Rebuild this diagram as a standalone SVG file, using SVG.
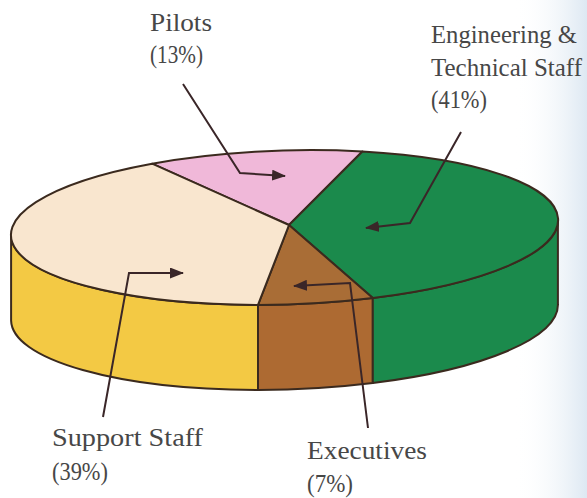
<svg xmlns="http://www.w3.org/2000/svg" width="587" height="498" viewBox="0 0 587 498">
  <defs>
    <linearGradient id="scan" x1="0" y1="0" x2="1" y2="0">
      <stop offset="0" stop-color="#ffffff" stop-opacity="0"/>
      <stop offset="1" stop-color="#dde8f2"/>
    </linearGradient>
    <marker id="arrow" markerUnits="userSpaceOnUse" markerWidth="14" markerHeight="11" refX="13" refY="5.5" orient="auto">
      <path d="M0,0 L14,5.5 L0,11 z" fill="#3a2628"/>
    </marker>
    <style>
      .edge { stroke: #3b2a1e; stroke-width: 2; stroke-linejoin: round; }
      .conn { fill: none; stroke: #3a2628; stroke-width: 2; marker-end: url(#arrow); }
      .lbl { font-family: "Liberation Serif", "DejaVu Serif", serif; font-size: 26px; fill: #474747; }
    </style>
  </defs>
  <rect width="587" height="498" fill="#ffffff"/>
  <rect x="515" y="0" width="72" height="498" fill="url(#scan)"/>

  <g id="pie">
    <path id="side-support" class="edge" fill="#f3c944" d="M258,304.9 A273.5,77 -1.7 0 1 11.1,235.6 L11.1,320.6 A273.5,77 -1.7 0 0 258,389.9 Z"/>
    <path id="side-executives" class="edge" fill="#ad6a32" d="M372.8,298 A273.5,77 -1.7 0 1 258,304.9 L258,389.9 A273.5,77 -1.7 0 0 372.8,383 Z"/>
    <path id="side-engineering" class="edge" fill="#1b8a4c" d="M557.9,219.4 A273.5,77 -1.7 0 1 372.8,298 L372.8,383 A273.5,77 -1.7 0 0 557.9,304.4 Z"/>
    <path id="top-pilots" class="edge" fill="#f0b8d9" d="M289,225 L152.1,163.7 A273.5,77 -1.7 0 1 362.4,151.5 Z"/>
    <path id="top-engineering" class="edge" fill="#1b8a4c" d="M289,225 L362.4,151.5 A273.5,77 -1.7 0 1 372.8,298 Z"/>
    <path id="top-executives" class="edge" fill="#a96d36" d="M289,225 L372.8,298 A273.5,77 -1.7 0 1 258,304.9 Z"/>
    <path id="top-support" class="edge" fill="#f9e6cf" d="M289,225 L258,304.9 A273.5,77 -1.7 0 1 152.1,163.7 Z"/>
  </g>

  <g id="connectors">
    <polyline class="conn" points="183,84 240,173 285,176"/>
    <polyline class="conn" points="461,132 410,223 366,228"/>
    <polyline class="conn" points="368,428 350,283 294,286"/>
    <polyline class="conn" points="103,417 129,273 183,273"/>
  </g>

  <g id="label-pilots">
    <text class="lbl" x="150" y="31" textLength="62" lengthAdjust="spacingAndGlyphs">Pilots</text>
    <text class="lbl" x="150" y="63" textLength="53" lengthAdjust="spacingAndGlyphs">(13%)</text>
  </g>
  <g id="label-engineering">
    <text class="lbl" x="431" y="43" textLength="146" lengthAdjust="spacingAndGlyphs">Engineering &amp;</text>
    <text class="lbl" x="431" y="76" textLength="151" lengthAdjust="spacingAndGlyphs">Technical Staff</text>
    <text class="lbl" x="431" y="108" textLength="56" lengthAdjust="spacingAndGlyphs">(41%)</text>
  </g>
  <g id="label-support">
    <text class="lbl" x="52" y="446" textLength="151" lengthAdjust="spacingAndGlyphs">Support Staff</text>
    <text class="lbl" x="52" y="480" textLength="56" lengthAdjust="spacingAndGlyphs">(39%)</text>
  </g>
  <g id="label-executives">
    <text class="lbl" x="307" y="459" textLength="120" lengthAdjust="spacingAndGlyphs">Executives</text>
    <text class="lbl" x="307" y="492" textLength="46" lengthAdjust="spacingAndGlyphs">(7%)</text>
  </g>
</svg>
